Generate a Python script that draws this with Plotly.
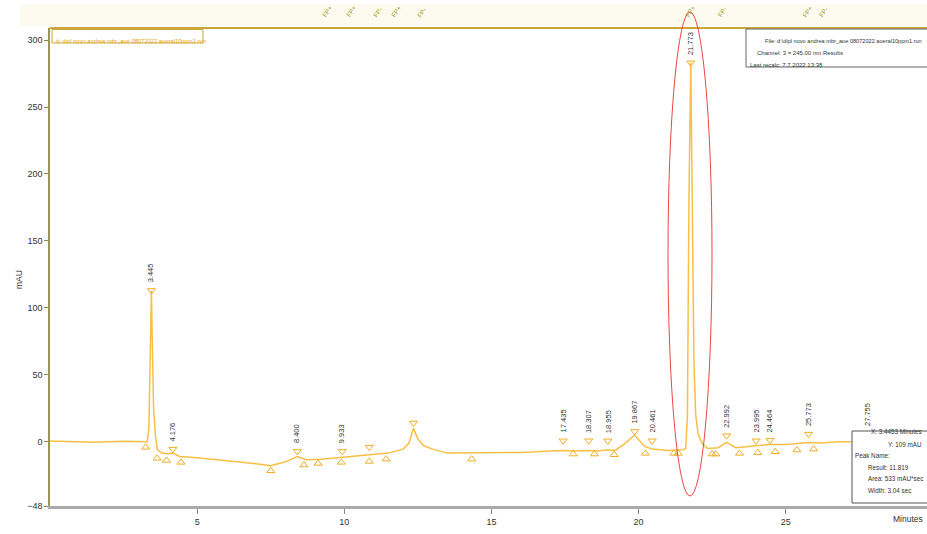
import plotly.graph_objects as go

# ---------------- data ----------------
time_min = [0, 1, 1.5, 2.5, 3.0, 3.3, 3.36, 3.40, 3.445, 3.48, 3.52, 3.58, 3.65, 3.8, 4.0, 4.176,
            4.4, 5.0, 6.0, 7.0, 7.5, 8.0, 8.4, 8.7, 9.2, 9.9, 10.5, 11.0, 11.5, 12.0, 12.2,
            12.35, 12.5, 12.7, 13.0, 13.5, 14.5, 16.0, 17.0, 17.435, 17.8, 18.307, 18.6, 18.955,
            19.2, 19.5, 19.867, 20.2, 20.461, 21.0, 21.5, 21.6, 21.66, 21.71, 21.773, 21.83,
            21.88, 21.94, 22.02, 22.15, 22.35, 22.7, 22.992, 23.3, 24.0, 24.464, 25.0, 25.773,
            26.2, 26.8, 27.5, 29.8]
signal_mAU = [0.5, 0.3, -0.3, 0.3, 0, 0, 10, 60, 113, 70, 25, 5, -6, -8.5, -9, -8.5,
              -11, -12, -14, -16.5, -18, -15, -11, -13.5, -13, -11.5, -10.5, -9.5, -8.5, -5.5, -1,
              10, 2, -3, -5.5, -8.5, -8.5, -8, -7, -6.5, -7, -6.5, -7, -6,
              -6.5, -2, 5, -3.5, -5.5, -6.5, -6, -5, 20, 180, 283, 180,
              60, 20, 6, -1, -5, -4.5, -0.5, -4.5, -3, -2, -2, -0.5,
              -1, 0, 0, 0]

peak_times = [3.445, 4.176, 8.400, 9.933, 17.435, 18.307, 18.955, 19.867, 20.461, 21.773,
              22.992, 23.995, 24.464, 25.773]
peak_marks = [113, -5.5, -7.2, -7.2, 0.7, 0.7, 0.7, 7.7, 0.7, 283, 4.5, 0.7, 1.2, 5.7]
peak_labels = ["3.445", "4.176", "8.400", "9.933", "17.435", "18.307", "18.955", "19.867",
               "20.461", "21.773", "22.992", "23.995", "24.464", "25.773"]

extra_top_times = [10.85, 12.35]
extra_top_marks = [-4, 14]

label_only_time = 27.755
label_only_mark = 6

base_times = [3.25, 3.64, 3.96, 4.45, 7.5, 8.63, 9.11, 9.9, 10.85, 11.42, 14.33, 17.78, 18.5,
              19.17, 20.23, 21.2, 21.35, 22.5, 22.62, 23.43, 24.05, 24.64, 25.38, 25.95]
base_marks = [-4.2, -12.4, -14, -15.4, -21.7, -17.4, -16.2, -15.4, -14.7, -13, -13, -9.2, -9.2,
              -9.7, -8.7, -8.7, -8.7, -9.2, -9.2, -8.7, -8.2, -7.5, -6.2, -5.5]

event_times = [9.17, 9.98, 10.9, 11.52, 12.4, 21.51, 22.6, 25.49, 26.04]
event_labels = ["FP+", "FP+", "FP-", "FP+", "FP-", "FP+", "FP-", "FP+", "FP-"]

y_ticks = [300, 250, 200, 150, 100, 50, 0, -48]
x_ticks = [5, 10, 15, 20, 25]

# ---------------- figure ----------------
W, H = 927, 534
ML, MR, MT, MB = 50, 0, 28, 28
PW, PH = W - ML - MR, H - MT - MB
FONT = "Liberation Sans, Arial, sans-serif"
LINE_C = "#f7bf45"
MARK_C = "#f2ac24"


def px(x):
    return (x - ML) / PW


def py(y):
    return (H - MB - y) / PH


fig = go.Figure()

fig.add_trace(go.Scatter(x=time_min, y=signal_mAU, mode="lines",
                         line=dict(color=LINE_C, width=1.5), hoverinfo="skip"))

fig.add_trace(go.Scatter(x=peak_times + extra_top_times, y=peak_marks + extra_top_marks,
                         mode="markers", cliponaxis=False,
                         marker=dict(symbol="triangle-down-open", size=7, color=MARK_C,
                                     line=dict(width=1, color=MARK_C)), hoverinfo="skip"))

fig.add_trace(go.Scatter(x=base_times, y=base_marks, mode="markers", cliponaxis=False,
                         marker=dict(symbol="triangle-up-open", size=7, color=MARK_C,
                                     line=dict(width=1, color=MARK_C)), hoverinfo="skip"))

# event tick marks on top axis
fig.add_trace(go.Scatter(x=event_times, y=[312] * len(event_times), mode="markers",
                         cliponaxis=False,
                         marker=dict(symbol="line-ns", size=6, line=dict(width=1, color="#555533")),
                         hoverinfo="skip"))

annotations = []
for t, m, lab in zip(peak_times + [label_only_time], peak_marks + [label_only_mark],
                     peak_labels + ["27.755"]):
    annotations.append(dict(x=t, y=m, xref="x", yref="y", text=lab, showarrow=False,
                            textangle=-90, yanchor="bottom", yshift=6,
                            font=dict(family=FONT, size=7.5, color="#333333")))

for t, lab in zip(event_times, event_labels):
    annotations.append(dict(x=t, y=1, xref="x", yref="paper", text=lab, showarrow=False,
                            textangle=-55, yanchor="bottom", xanchor="left", yshift=7, xshift=-2,
                            font=dict(family=FONT, size=6.5, color="#9a9a22")))

# axis titles
annotations.append(dict(x=px(12), y=py(280), xref="paper", yref="paper", text="mAU",
                        showarrow=False, textangle=-90,
                        font=dict(family=FONT, size=8.5, color="#333333")))
annotations.append(dict(x=px(925), y=py(526), xref="paper", yref="paper", text="Minutes",
                        showarrow=False, xanchor="right",
                        font=dict(family=FONT, size=8.5, color="#333333")))

# top-left file box text
annotations.append(dict(x=px(54), y=py(36), xref="paper", yref="paper", xanchor="left",
                        text="d: dipl novo andrea mbr_aoe 08072022 aoeral10ppm1.run",
                        showarrow=False, font=dict(family=FONT, size=5.8, color="#e8a000")))

# top-right info box text
for (x0, y0, txt) in [(924, 36, "File: d:\\dipl novo andrea mbr_aoe 08072022 aoeral10ppm1.run")]:
    annotations.append(dict(x=px(x0), y=py(y0), xref="paper", yref="paper", xanchor="right",
                            text=txt, showarrow=False,
                            font=dict(family=FONT, size=5.6, color="#333333")))
for (x0, y0, txt) in [(755, 48, "Channel: 3 = 245.00 nm Results"),
                      (748, 60, "Last recalc: 7.7.2022 13:38")]:
    annotations.append(dict(x=px(x0), y=py(y0), xref="paper", yref="paper", xanchor="left",
                            text=txt, showarrow=False,
                            font=dict(family=FONT, size=6, color="#333333")))

# bottom-right cursor box text
for (x0, y0, txt) in [(924, 437, "X: 3.4453 Minutes"), (924, 449.5, "Y: 109 mAU")]:
    annotations.append(dict(x=px(x0), y=py(y0), xref="paper", yref="paper", xanchor="right",
                            text=txt, showarrow=False,
                            font=dict(family=FONT, size=6.3, color="#333333")))
for (x0, y0, txt) in [(853, 461, "Peak Name:"), (866, 472.5, "Result: 11.819"),
                      (866, 484, "Area: 533 mAU*sec"), (866, 495.5, "Width: 3.04 sec")]:
    annotations.append(dict(x=px(x0), y=py(y0), xref="paper", yref="paper", xanchor="left",
                            text=txt, showarrow=False,
                            font=dict(family=FONT, size=6.3, color="#333333")))

shapes = [
    # cream band at top
    dict(type="rect", xref="paper", yref="paper", x0=px(20), x1=px(927), y0=py(26), y1=py(4),
         fillcolor="#fdfbef", line=dict(width=0), layer="below"),
    # top axis line
    dict(type="line", xref="paper", yref="paper", x0=0, x1=1, y0=1, y1=1,
         line=dict(color="#c9a638", width=2)),
    # top-left box
    dict(type="rect", xref="paper", yref="paper", x0=px(52), x1=px(203), y0=py(43), y1=py(29.5),
         fillcolor="white", line=dict(color="#c9a638", width=1)),
    # top-right box
    dict(type="rect", xref="paper", yref="paper", x0=px(746), x1=px(935), y0=py(67), y1=py(29),
         fillcolor="white", line=dict(color="#666666", width=1)),
    # bottom-right box
    dict(type="rect", xref="paper", yref="paper", x0=px(852), x1=px(935), y0=py(503), y1=py(431),
         fillcolor="white", line=dict(color="#555555", width=1)),
    # red ellipse around main peak
    dict(type="circle", xref="paper", yref="paper", x0=px(668), x1=px(712), y0=py(496), y1=py(12),
         line=dict(color="#ee4444", width=1)),
]

fig.update_layout(
    width=W, height=H,
    margin=dict(l=ML, r=MR, t=MT, b=MB),
    paper_bgcolor="white", plot_bgcolor="white",
    showlegend=False,
    font=dict(family=FONT, size=9, color="#333333"),
    xaxis=dict(range=[0, 29.8], tickvals=x_ticks, ticks="outside", ticklen=5,
               tickcolor="#888888", showline=True, linecolor="#aaaaaa", linewidth=3,
               showgrid=False, zeroline=False, tickfont=dict(size=9, color="#333333")),
    yaxis=dict(range=[-48, 309], tickvals=y_ticks, ticks="outside", ticklen=4,
               tickcolor="#8f8a40", showline=True, linecolor="#9c9648", linewidth=1.5,
               showgrid=False, zeroline=False, tickfont=dict(size=9, color="#333333")),
    annotations=annotations,
    shapes=shapes,
)

fig.write_html("out.html",
               config={"displayModeBar": False},
               post_script="document.body.style.margin='0px';"
                           "document.body.style.overflow='hidden';")
